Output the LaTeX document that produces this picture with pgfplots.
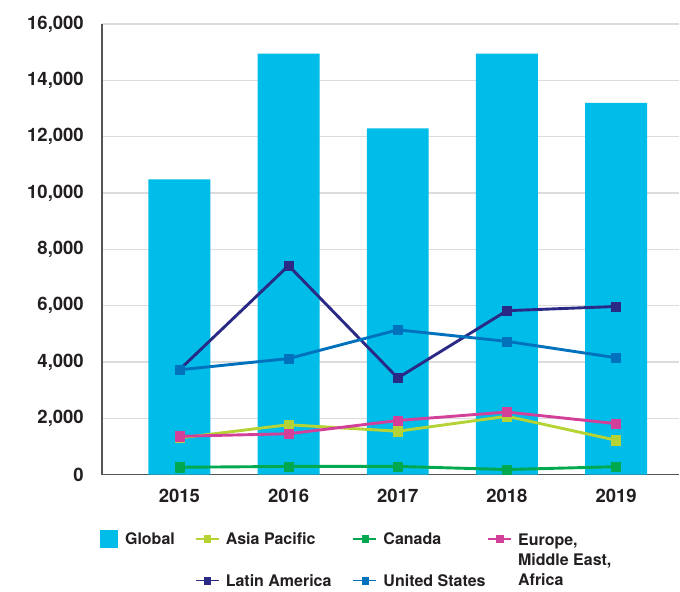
\documentclass[border=0pt]{standalone}
\usepackage{pgfplots}
\pgfplotsset{compat=1.18}
\usepackage{fontspec}
\setmainfont{TeX Gyre Heros}
\definecolor{cGlobal}{HTML}{00BCE8}
\definecolor{cAsia}{HTML}{B5D334}
\definecolor{cCanada}{HTML}{00A84F}
\definecolor{cEurope}{HTML}{D2409A}
\definecolor{cLatin}{HTML}{2A2A86}
\definecolor{cUS}{HTML}{0071BC}
\definecolor{txt}{HTML}{231F20}
\definecolor{axisgray}{HTML}{555555}
\definecolor{gridgray}{HTML}{DCDCDC}
\pgfplotsset{
  regline/.style={line width=2.9pt, mark=square*, mark size=4.6pt, mark options={line width=0.4pt}},
  lineleg/.style={legend image code/.code={
     \draw[##1,line width=1.6pt,mark size=3.2pt,mark repeat=2,mark phase=2] plot coordinates {(0pt,0pt) (11.5pt,0pt) (23pt,0pt)};
     \path[draw=none,fill=none] (0pt,-7pt) rectangle (30pt,7pt);}},
}
\begin{document}
\begin{tikzpicture}
\begin{axis}[
    name=ax,
    scale only axis, width=578pt, height=451pt,
    xmin=2014.29, xmax=2019.58,
    ymin=0, ymax=16000,
    xtick={2015,2016,2017,2018,2019},
    xticklabels={2015,2016,2017,2018,2019},
    ytick={0,2000,...,16000},
    scaled y ticks=false,
    /pgf/number format/1000 sep={,},
    /pgf/number format/assume math mode=true,
    major tick length=0pt,
    axis x line*=bottom, axis y line*=left,
    axis line style={color=axisgray, line width=1.2pt, -},
    ymajorgrids, grid style={color=gridgray, line width=1.2pt},
    ticklabel style={font=\fontsize{18.5}{20}\selectfont\bfseries, text=txt, inner sep=0pt},
    yticklabel style={anchor=east, xshift=-18pt},
    xticklabel style={anchor=north, yshift=-14pt},
    legend columns=4,
    legend cell align=left,
    legend style={draw=none, fill=none, inner sep=0pt, column sep=0pt, row sep=26pt,
      nodes={inner sep=0pt, text depth=0pt},
      font=\fontsize{16}{20}\selectfont\bfseries, text=txt,
      at={(axis description cs:0,0)}, anchor=north west, xshift=-2pt, yshift=-55pt},
]
\addplot[ybar, bar width=62pt, bar shift=0pt, fill=cGlobal, draw=none,
  legend image code/.code={\fill[cGlobal] (0pt,-9pt) rectangle (18pt,9pt); \path[draw=none,fill=none] (25pt,0pt);}]
  coordinates {(2015,10480) (2016,14950) (2017,12290) (2018,14950) (2019,13200)};
\addlegendentry{\makebox[70pt][l]{Global}}
\addplot[regline, lineleg, color=cAsia]
  coordinates {(2015,1300) (2016,1770) (2017,1540) (2018,2070) (2019,1220)};
\addlegendentry{\makebox[127pt][l]{Asia Pacific}}
\addplot[regline, lineleg, color=cCanada]
  coordinates {(2015,260) (2016,290) (2017,290) (2018,180) (2019,280)};
\addlegendentry{\makebox[104pt][l]{Canada}}
\addplot[regline, lineleg, color=cEurope]
  coordinates {(2015,1360) (2016,1450) (2017,1920) (2018,2220) (2019,1810)};
\addlegendentry{\raisebox{0pt}[\height][0pt]{\begin{tabular}[t]{@{}l@{}}Europe,\\Middle East,\\Africa\end{tabular}}}
\addlegendimage{legend image code/.code={}}
\addlegendentry{}
\addplot[regline, lineleg, color=cLatin]
  coordinates {(2015,3720) (2016,7420) (2017,3430) (2018,5820) (2019,5970)};
\addlegendentry{\makebox[127pt][l]{Latin America}}
\addplot[regline, lineleg, color=cUS]
  coordinates {(2015,3720) (2016,4120) (2017,5140) (2018,4730) (2019,4150)};
\addlegendentry{\makebox[104pt][l]{United States}}
\addlegendimage{legend image code/.code={}}
\addlegendentry{}
\end{axis}
\path (ax.south west) ++(-102pt,-117pt) rectangle ++(680pt,592pt);
\end{tikzpicture}
\end{document}
